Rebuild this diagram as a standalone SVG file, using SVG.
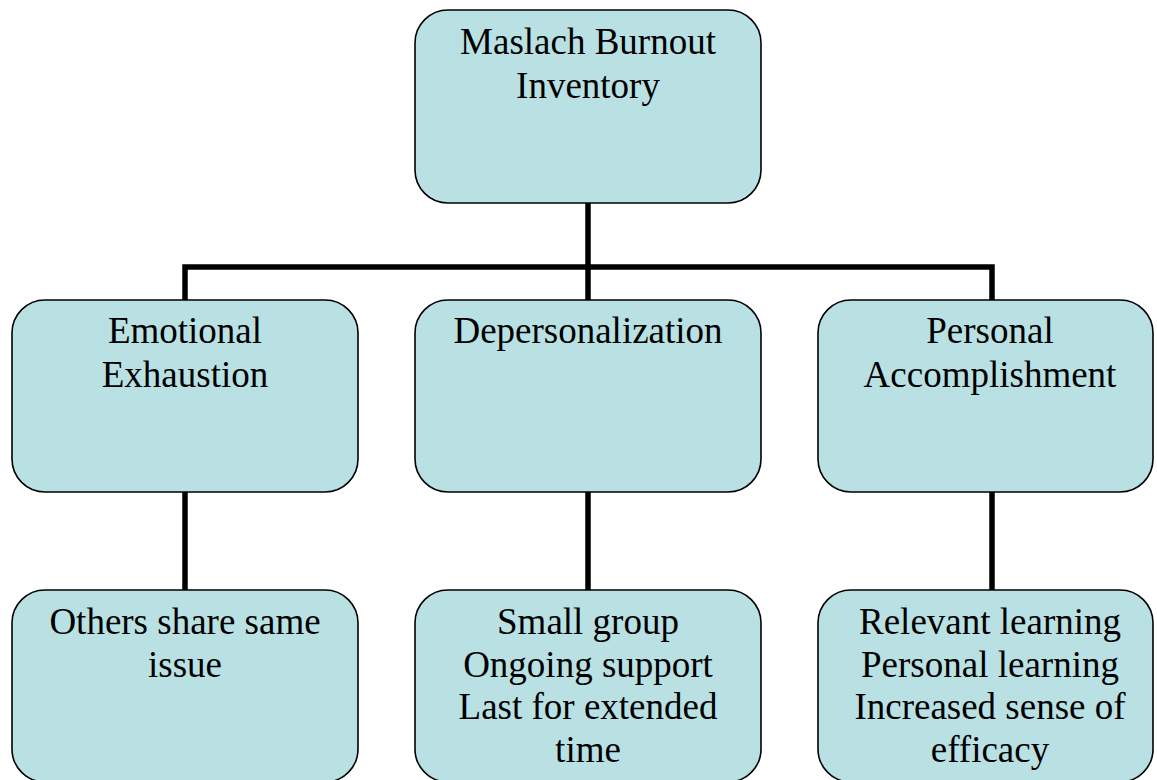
<svg xmlns="http://www.w3.org/2000/svg" width="1157" height="780" viewBox="0 0 1157 780">
<style>
.box{fill:#b9e0e3;stroke:#000;stroke-width:1.6}
.lbl{font-family:"Liberation Serif","Times New Roman",serif;font-size:37px;fill:#000;text-anchor:middle}
.conn{fill:none;stroke:#000;stroke-width:5.5;stroke-linejoin:miter;stroke-linecap:butt}
</style>
<rect width="1157" height="780" fill="#fff"/>
<g id="connectors">
<path class="conn" d="M588 203 V300 M185 300 V267 H992 V300"/>
<path class="conn" d="M185 492 V590 M588 492 V590 M992 492 V590"/>
</g>
<g id="mbi">
<rect class="box" x="415" y="10" width="346" height="193" rx="33"/>
<text class="lbl" x="588" y="54">Maslach Burnout</text>
<text class="lbl" x="588" y="98">Inventory</text>
</g>
<g id="emotional">
<rect class="box" x="12" y="300" width="346" height="192" rx="33"/>
<text class="lbl" x="185" y="343">Emotional</text>
<text class="lbl" x="185" y="387">Exhaustion</text>
</g>
<g id="depersonalization">
<rect class="box" x="415" y="300" width="346" height="192" rx="33"/>
<text class="lbl" x="588" y="343">Depersonalization</text>
</g>
<g id="personal">
<rect class="box" x="818" y="300" width="335" height="192" rx="33"/>
<text class="lbl" x="990" y="343">Personal</text>
<text class="lbl" x="990" y="387">Accomplishment</text>
</g>
<g id="others">
<rect class="box" x="12" y="590" width="346" height="192" rx="33"/>
<text class="lbl" x="185" y="634">Others share same</text>
<text class="lbl" x="185" y="677">issue</text>
</g>
<g id="smallgroup">
<rect class="box" x="415" y="590" width="346" height="192" rx="33"/>
<text class="lbl" x="588" y="634">Small group</text>
<text class="lbl" x="588" y="677">Ongoing support</text>
<text class="lbl" x="588" y="719">Last for extended</text>
<text class="lbl" x="588" y="762">time</text>
</g>
<g id="relevant">
<rect class="box" x="818" y="590" width="335" height="192" rx="33"/>
<text class="lbl" x="990" y="634">Relevant learning</text>
<text class="lbl" x="990" y="677">Personal learning</text>
<text class="lbl" x="990" y="719">Increased sense of</text>
<text class="lbl" x="990" y="762">efficacy</text>
</g>
</svg>
